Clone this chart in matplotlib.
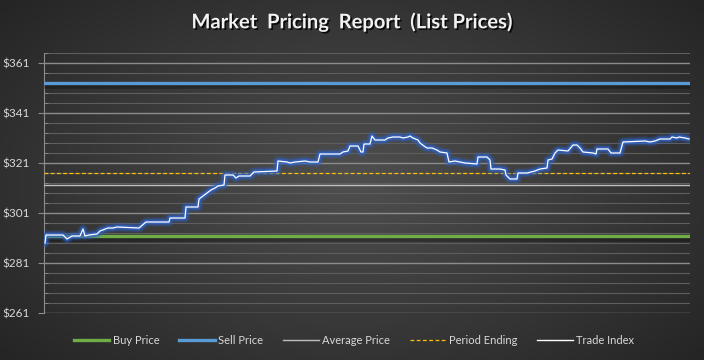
import matplotlib
matplotlib.use('Agg')
import matplotlib.pyplot as plt
import matplotlib.patheffects as pe
from matplotlib.lines import Line2D
from matplotlib.ticker import MultipleLocator, FuncFormatter
import numpy as np

# data
buy_price = 291.8
sell_price = 353.0
average_price = 312.2
period_ending = 316.9

ticks = [1, 2, 19, 23, 28, 36, 39, 41, 45, 53,
         56, 64, 69, 73, 95, 102, 106, 125, 126, 141,
         142, 154, 155, 159, 163, 167, 171, 174, 180, 181,
         189, 192, 195, 206, 208, 210, 233, 234, 243, 246,
         251, 261, 266, 274, 276, 296, 299, 304, 306, 314,
         317, 319, 320, 326, 328, 331, 341, 344, 349, 356,
         359, 364, 366, 369, 374, 376, 380, 383, 388, 393,
         396, 403, 405, 411, 416, 421, 433, 434, 443, 446,
         447, 456, 461, 462, 466, 473, 474, 483, 491, 496,
         503, 504, 508, 511, 514, 524, 529, 533, 536, 539,
         549, 552, 553, 564, 567, 576, 579, 601, 606, 611,
         616, 626, 628, 633, 635, 641, 645]
trade_index = [289.0, 292.2, 292.2, 290.6, 291.8, 291.8, 294.6, 291.8, 292.2, 292.6,
               293.8, 295.0, 295.0, 295.4, 295.0, 297.4, 297.4, 297.4, 299.0, 299.0,
               303.4, 303.4, 306.6, 307.8, 309.0, 310.2, 311.0, 311.8, 312.2, 316.2,
               316.2, 315.0, 315.8, 315.8, 316.6, 317.4, 317.8, 321.8, 321.4, 321.0,
               321.4, 321.8, 321.4, 321.4, 324.6, 324.6, 325.4, 325.8, 327.8, 327.8,
               325.4, 325.4, 328.6, 328.6, 331.8, 330.2, 330.2, 331.0, 331.4, 331.4,
               331.0, 331.4, 331.8, 331.0, 330.2, 329.0, 327.8, 327.0, 327.0, 326.2,
               325.4, 325.0, 321.4, 321.8, 321.4, 321.0, 320.6, 323.4, 323.4, 322.2,
               318.6, 318.6, 318.2, 316.2, 314.6, 314.6, 317.0, 317.0, 317.8, 318.6,
               319.0, 322.2, 322.6, 325.0, 326.2, 325.8, 328.2, 328.2, 327.0, 325.4,
               325.0, 324.6, 326.6, 326.6, 325.0, 325.0, 329.4, 329.8, 329.4, 329.8,
               330.6, 330.6, 331.4, 331.0, 331.4, 331.0, 330.6]

plt.rcParams['font.family'] = ['Lato', 'DejaVu Sans']

fig = plt.figure(figsize=(7.04, 3.6), dpi=100)

# radial gradient background
bg = fig.add_axes([0, 0, 1, 1])
yy, xx = np.mgrid[-1:1:360j, -1:1:704j]
r = np.sqrt((xx * 0.95) ** 2 + (yy * 0.85) ** 2)
shade = 0.31 - 0.17 * np.clip(r, 0, 1.3) / 1.3
bg.imshow(np.dstack([shade] * 3), aspect='auto', extent=[0, 1, 0, 1])
bg.axis('off')

ax = fig.add_axes([44 / 704, 1 - 313 / 360, 646 / 704, 260 / 360])
ax.patch.set_alpha(0)

colors = {'Buy Price': '#70ad47', 'Sell Price': '#5b9bd5', 'Average Price': '#bfbfbf',
          'Period Ending': '#ffc000', 'Trade Index': 'white'}

x_full = [0, 646]
shadow = [pe.SimpleLineShadow(offset=(0, -2.5), shadow_color='black', alpha=0.3, linewidth=4), pe.Normal()]
ax.plot(x_full, [buy_price] * 2, color=colors['Buy Price'], lw=2.4, path_effects=shadow, zorder=4)
ax.plot(x_full, [sell_price] * 2, color=colors['Sell Price'], lw=2.4, path_effects=shadow, zorder=4)
ax.plot(x_full, [average_price] * 2, color=colors['Average Price'], lw=1.0, zorder=4)
ax.plot(x_full, [period_ending] * 2, color=colors['Period Ending'], lw=0.9, ls=(0, (3, 2)), zorder=4)

# glow under trade index
for w, a in [(7, 0.2), (5, 0.35), (3.2, 0.7)]:
    ax.plot(ticks, trade_index, color='#2f63c8', lw=w, alpha=a, solid_joinstyle='round',
            solid_capstyle='round', zorder=5)
ax.plot(ticks, trade_index, color='white', lw=0.9, zorder=6)

ax.set_xlim(0, 646)
ax.set_ylim(261, 365)
ax.yaxis.set_major_locator(MultipleLocator(20, offset=1))
ax.yaxis.set_minor_locator(MultipleLocator(4, offset=1))
ax.yaxis.set_major_formatter(FuncFormatter(lambda v, p: '$%d' % round(v)))
ax.grid(which='major', axis='y', color='#8c8c8c', lw=1.0, zorder=1)
ax.grid(which='minor', axis='y', color='#5e5e5e', lw=0.8, zorder=1)
ax.set_axisbelow(True)
ax.set_xticks([])
for s in ['top', 'right', 'bottom']:
    ax.spines[s].set_visible(False)
ax.spines['left'].set_color('#8c8c8c')
ax.tick_params(axis='y', which='major', direction='out', length=4, color='#8c8c8c',
               labelcolor='#d9d9d9', labelsize=8.5, pad=6)
ax.tick_params(axis='y', which='minor', direction='in', length=3, color='#8c8c8c')

fig.text(0.5, 1 - 22 / 360, 'Market  Pricing  Report  (List Prices)', ha='center', va='center',
         color='#f2f2f2', fontsize=14.5, fontweight='bold',
         path_effects=[pe.SimplePatchShadow(offset=(1.2, -1.2), shadow_rgbFace='black', alpha=0.8), pe.Normal()])

handles = [Line2D([], [], color=colors['Buy Price'], lw=2.4),
           Line2D([], [], color=colors['Sell Price'], lw=2.4),
           Line2D([], [], color=colors['Average Price'], lw=1.0),
           Line2D([], [], color=colors['Period Ending'], lw=0.9, ls=(0, (3, 2))),
           Line2D([], [], color=colors['Trade Index'], lw=1.0)]
leg = fig.legend(handles, list(colors.keys()), loc='center', bbox_to_anchor=(354 / 704, 1 - 340 / 360),
                 ncol=5, frameon=False, fontsize=8, handlelength=3.2, handletextpad=0.3,
                 columnspacing=1.8)
for t in leg.get_texts():
    t.set_color('#d9d9d9')

fig.savefig('out.png', dpi=100)
